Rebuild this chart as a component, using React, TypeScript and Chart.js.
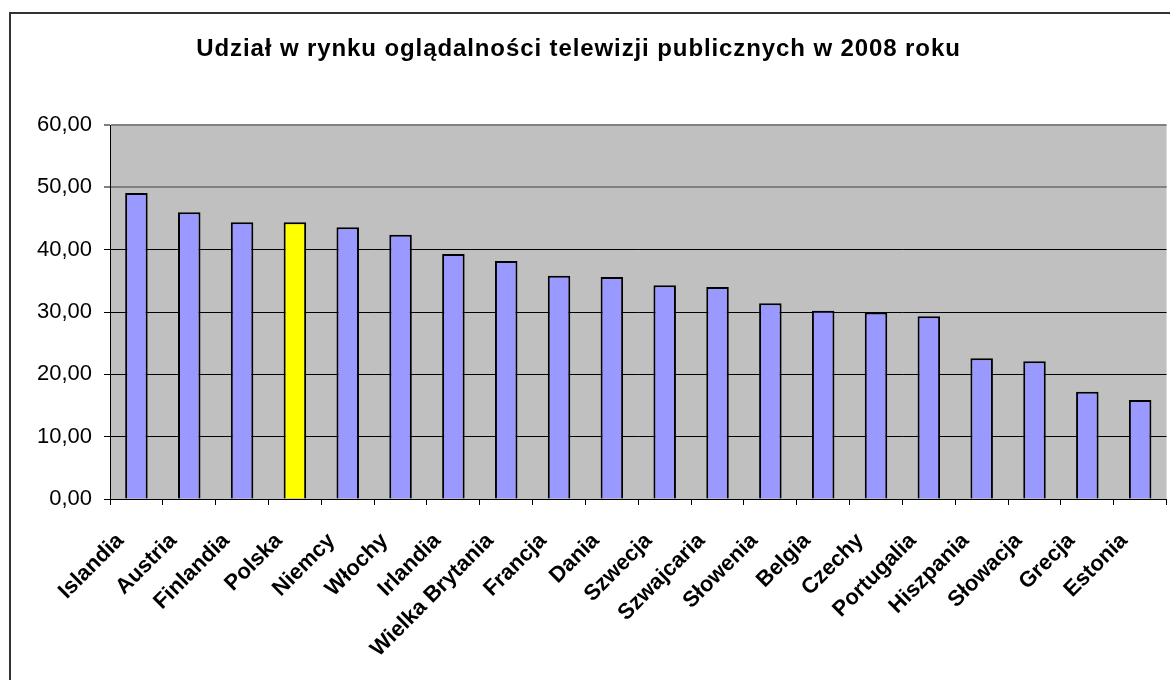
import React, { useEffect, useRef } from 'react';
import { Chart, registerables } from 'chart.js';

Chart.register(...registerables);

const TITLE = 'Udział w rynku oglądalności telewizji publicznych w 2008 roku';

const countries = [
  'Islandia', 'Austria', 'Finlandia', 'Polska', 'Niemcy', 'Włochy', 'Irlandia',
  'Wielka Brytania', 'Francja', 'Dania', 'Szwecja', 'Szwajcaria', 'Słowenia',
  'Belgia', 'Czechy', 'Portugalia', 'Hiszpania', 'Słowacja', 'Grecja', 'Estonia',
];

const shares = [
  49.1, 46.0, 44.4, 44.4, 43.6, 42.4, 39.3,
  38.2, 35.8, 35.6, 34.3, 34.0, 31.4,
  30.2, 29.9, 29.3, 22.6, 22.1, 17.2, 15.9,
];

const highlighted = ['Polska'];

const yTickValues = [0, 10, 20, 30, 40, 50, 60];

const FONT = '"Liberation Sans", Arial, sans-serif';

const plotStyle = {
  id: 'plotStyle',
  beforeDraw(chart: any) {
    const { ctx, chartArea: a } = chart;
    ctx.save();
    ctx.fillStyle = '#C0C0C0';
    ctx.fillRect(a.left, a.top, a.right - a.left, a.bottom - a.top);
    ctx.restore();
    ctx.letterSpacing = '0.9px';
  },
  beforeDatasetsDraw(chart: any) {
    chart.ctx.letterSpacing = '0px';
  },
  afterDraw(chart: any) {
    chart.ctx.letterSpacing = '0px';
  },
};

export default function App() {
  const canvasRef = useRef<HTMLCanvasElement | null>(null);

  useEffect(() => {
    if (!canvasRef.current) return;
    const chart = new Chart(canvasRef.current, {
      type: 'bar',
      data: {
        labels: countries,
        datasets: [
          {
            data: shares,
            backgroundColor: countries.map((c) => (highlighted.includes(c) ? '#FFFF00' : '#9999FF')),
            borderColor: '#000000',
            borderWidth: 2,
            barPercentage: 0.426,
            categoryPercentage: 1,
          },
        ],
      },
      options: {
        responsive: false,
        devicePixelRatio: 1,
        animation: false,
        layout: { padding: { left: 0, right: 7, top: 0, bottom: 0 } },
        plugins: {
          legend: { display: false },
          tooltip: { enabled: false },
          title: {
            display: true,
            text: TITLE,
            color: '#000',
            font: { family: FONT, size: 24, weight: 'bold', lineHeight: 1.2 },
            padding: { top: 34.6, bottom: 61.6 },
          },
        },
        scales: {
          x: {
            grid: {
              display: true,
              drawOnChartArea: false,
              drawTicks: true,
              tickLength: 6,
              color: '#000',
              offset: true,
            },
            border: { display: true, color: '#000', width: 1 },
            ticks: {
              autoSkip: false,
              minRotation: 45,
              maxRotation: 45,
              labelOffset: -16,
              padding: 23,
              color: '#000',
              font: { family: FONT, size: 22, weight: 'bold' },
              z: 1,
            },
            afterFit: (s: any) => {
              s.height = 181;
            },
          },
          y: {
            min: 0,
            max: 60,
            afterBuildTicks: (s: any) => {
              s.ticks = yTickValues.map((v) => ({ value: v }));
            },
            ticks: {
              padding: 12,
              color: '#000',
              font: { family: FONT, size: 22 },
              callback: (v: any) => Number(v).toFixed(2).replace('.', ','),
              z: 1,
            },
            grid: {
              color: (c: any) => (c.tick && c.tick.value >= 50 ? '#808080' : '#000'),
              lineWidth: (c: any) => (c.tick && c.tick.value >= 50 ? 2 : 1),
              tickColor: '#000',
              tickWidth: 1,
              tickLength: 6,
              drawTicks: true,
            },
            border: { display: true, color: '#000', width: 1 },
            afterFit: (s: any) => {
              s.width = 128;
            },
          },
        },
      } as any,
      plugins: [plotStyle],
    });
    return () => chart.destroy();
  }, []);

  return (
    <div
      style={{
        position: 'absolute',
        left: 0,
        top: 0,
        width: 1170,
        height: 680,
        overflow: 'hidden',
        background: '#fff',
      }}
    >
      <div
        style={{
          position: 'absolute',
          left: 9,
          top: 12,
          width: 1300,
          height: 800,
          border: '2px solid #333',
          boxSizing: 'border-box',
        }}
      />
      <canvas
        ref={canvasRef}
        width={1200}
        height={680}
        style={{ position: 'absolute', left: -18, top: 0, width: 1200, height: 680 }}
      />
    </div>
  );
}
